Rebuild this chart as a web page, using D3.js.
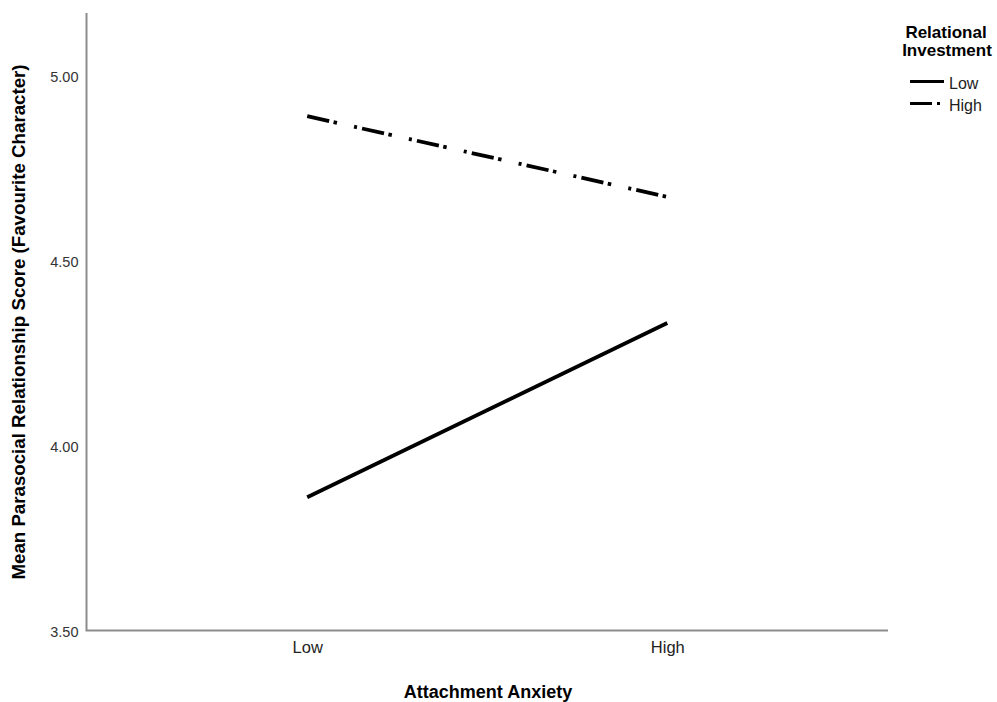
<!DOCTYPE html>
<html>
<head>
<meta charset="utf-8">
<script src="https://cdn.jsdelivr.net/npm/d3@7"></script>
<style>
  html, body { margin: 0; padding: 0; background: #fff; }
  svg { display: block; font-family: "Liberation Sans", Arial, sans-serif; }
</style>
</head>
<body>
<div id="chart"></div>
<script>
///////// data //////////
const categories = ["Low", "High"];
const series_names = ["Low", "High"];
const low_values = [3.86, 4.331];
const high_values = [4.89, 4.672];
const y_ticks = [3.5, 4.0, 4.5, 5.0];

const W = 997, H = 702;
const left = 86.5, right = 888, top_y = 13, bottom_y = 630.5;

let svg = d3.select("#chart").append("svg")
  .attr("width", W)
  .attr("height", H);

let x = d3.scalePoint()
  .domain(categories)
  .range([left, right])
  .padding(0.613);

let y = d3.scaleLinear()
  .domain([3.5, 5.0])
  .range([bottom_y, bottom_y - 1.5 * 370]);

// axes
let yAxis = svg.append("g")
  .attr("transform", "translate(" + left + ",0)")
  .call(d3.axisLeft(y).tickValues(y_ticks).tickSize(0).tickPadding(8).tickFormat(d3.format(".2f")));
yAxis.select(".domain").remove();
yAxis.selectAll("text").attr("font-size", 14.5).attr("fill", "#333").attr("dy", "0.4em")
  .attr("font-family", "Liberation Sans, Arial, sans-serif");

let xAxis = svg.append("g")
  .attr("transform", "translate(0," + bottom_y + ")")
  .call(d3.axisBottom(x).tickSize(0).tickPadding(11));
xAxis.select(".domain").remove();
xAxis.selectAll("text").attr("font-size", 16.5).attr("fill", "#222")
  .attr("font-family", "Liberation Sans, Arial, sans-serif");

// axis lines
svg.append("path")
  .attr("d", "M" + left + "," + top_y + "V" + bottom_y + "H" + right)
  .attr("fill", "none")
  .attr("stroke", "#8c8c8c")
  .attr("stroke-width", 2);

// lines
let line = d3.line()
  .x((d, i) => x(categories[i]))
  .y(d => y(d));

svg.append("path")
  .datum(low_values)
  .attr("d", line)
  .attr("fill", "none")
  .attr("stroke", "#000")
  .attr("stroke-width", 3.8);

svg.append("path")
  .datum(high_values)
  .attr("d", line)
  .attr("fill", "none")
  .attr("stroke", "#000")
  .attr("stroke-width", 3.8)
  .attr("stroke-dasharray", "22.5,4.5,3.5,17.5,3,5.2");

// axis titles
svg.append("text")
  .attr("x", 488).attr("y", 698)
  .attr("text-anchor", "middle")
  .attr("font-size", 18).attr("font-weight", "bold")
  .text("Attachment Anxiety");

svg.append("text")
  .attr("transform", "translate(25,322) rotate(-90)")
  .attr("text-anchor", "middle")
  .attr("font-size", 18.7).attr("font-weight", "bold")
  .text("Mean Parasocial Relationship Score (Favourite Character)");

// legend
let legend = svg.append("g");
legend.append("text")
  .attr("x", 946).attr("y", 38)
  .attr("text-anchor", "middle")
  .attr("font-size", 17).attr("font-weight", "bold")
  .text("Relational");
legend.append("text")
  .attr("x", 947).attr("y", 55.5)
  .attr("text-anchor", "middle")
  .attr("font-size", 17).attr("font-weight", "bold")
  .text("Investment");

let dashes = [null, "22,5,3,20"];
series_names.forEach((name, i) => {
  let ly = 81.5 + i * 22;
  legend.append("line")
    .attr("x1", 910).attr("x2", 944)
    .attr("y1", ly).attr("y2", ly)
    .attr("stroke", "#000")
    .attr("stroke-width", 3)
    .attr("stroke-dasharray", dashes[i]);
  legend.append("text")
    .attr("x", 949).attr("y", ly + 7.5)
    .attr("font-size", 16)
    .attr("fill", "#222")
    .text(name);
});
</script>
</body>
</html>
